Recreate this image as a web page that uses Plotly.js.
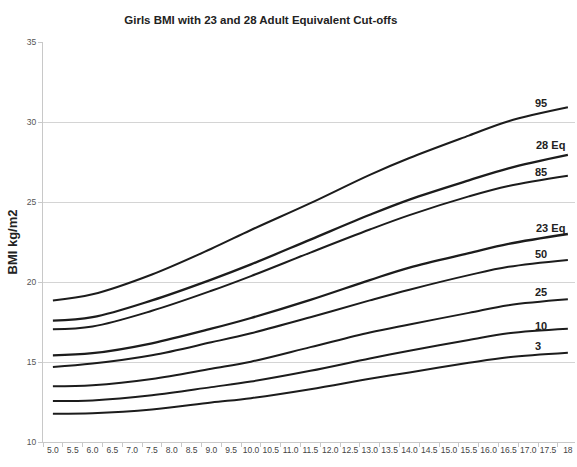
<!DOCTYPE html>
<html>
<head>
<meta charset="utf-8">
<script src="https://cdn.plot.ly/plotly-3.0.1.min.js"></script>
<style>html,body{margin:0;padding:0;background:#fff}#chart{width:577px;height:467px}</style>
</head>
<body>
<div id="chart"></div>
<script>
// Ages (years) at which the curves were read
const ages = [5, 6, 7.5, 9, 10, 11.5, 13, 14, 15.5, 16.5, 18];

// Centile curves (BMI kg/m2)
const p95   = [18.85, 19.23, 20.47, 22.08, 23.25, 24.93, 26.70, 27.75, 29.15, 30.05, 30.92];
const eq28  = [17.58, 17.80, 18.85, 20.15, 21.10, 22.65, 24.20, 25.15, 26.35, 27.10, 27.94];
const p85   = [17.04, 17.22, 18.20, 19.45, 20.37, 21.84, 23.28, 24.18, 25.35, 26.00, 26.64];
const eq23  = [15.42, 15.55, 16.17, 17.08, 17.75, 18.88, 20.12, 20.90, 21.80, 22.38, 23.00];
const p50   = [14.69, 14.90, 15.42, 16.23, 16.80, 17.80, 18.85, 19.52, 20.43, 20.95, 21.38];
const p25   = [13.48, 13.55, 13.94, 14.58, 15.02, 15.93, 16.85, 17.35, 18.07, 18.55, 18.92];
const p10   = [12.56, 12.60, 12.92, 13.43, 13.78, 14.45, 15.22, 15.70, 16.38, 16.80, 17.08];
const p3    = [11.77, 11.80, 12.03, 12.47, 12.74, 13.30, 13.95, 14.35, 14.95, 15.30, 15.58];

const seriesNames = ['95', '28 Eq', '85', '23 Eq', '50', '25', '10', '3'];
const seriesData  = [p95, eq28, p85, eq23, p50, p25, p10, p3];

// Category tick labels
const tickValues = [5,5.5,6,6.5,7,7.5,8,8.5,9,9.5,10,10.5,11,11.5,12,12.5,13,13.5,14,14.5,15,15.5,16,16.5,17,17.5,18];
const tickLabels = ['5.0','5.5','6.0','6.5','7.0','7.5','8.0','8.5','9.0','9.5','10.0','10.5','11.0','11.5','12.0','12.5','13.0','13.5','14.0','14.5','15.0','15.5','16.0','16.5','17.0','17.5','18'];

// Label positions [age, bmi]
const labelPos = [[17.32, 31.2], [17.55, 28.55], [17.32, 26.85], [17.55, 23.38], [17.32, 21.77], [17.32, 19.35], [17.32, 17.23], [17.25, 16.0]];

const traces = seriesData.map((vals, i) => ({
  x: ages, y: vals, type: 'scatter', mode: 'lines', name: seriesNames[i],
  line: {color: '#1c1c1c', width: (seriesNames[i].indexOf('Eq') >= 0) ? 2.3 : 2, shape: 'spline', smoothing: 1},
  hoverinfo: 'skip'
}));

const annotations = seriesNames.map((n, i) => ({
  x: labelPos[i][0], y: labelPos[i][1], xref: 'x', yref: 'y', text: '<b>' + n + '</b>',
  showarrow: false, font: {family: 'Liberation Sans, Arial, sans-serif', size: 11, color: '#222'}
}));

const layout = {
  width: 577, height: 467,
  margin: {l: 43, r: 2, t: 42, b: 25},
  paper_bgcolor: '#fff', plot_bgcolor: '#fff',
  showlegend: false,
  title: {text: '<b>Girls BMI with 23 and 28 Adult Equivalent Cut-offs</b>', x: 0.452, xanchor: 'center', y: 0.957, yanchor: 'middle',
          font: {family: 'Liberation Sans, Arial, sans-serif', size: 11.5, color: '#222'}},
  xaxis: {
    range: [4.75, 18.18], tickmode: 'array', tickvals: tickValues, ticktext: tickLabels,
    showgrid: false, zeroline: false, showline: true, linecolor: '#c8c8c8', linewidth: 1,
    ticks: '', tickangle: 0,
    minor: {tick0: 4.75, dtick: 0.5, ticks: 'outside', ticklen: 4, tickcolor: '#c8c8c8', showgrid: false},
    tickfont: {family: 'Liberation Sans Narrow, Arial Narrow, sans-serif', size: 8.5, color: '#444'}
  },
  yaxis: {
    range: [10, 35], tickvals: [10, 15, 20, 25, 30, 35], ticktext: ['10','15','20','25','30','35'],
    showgrid: true, gridcolor: '#d4d4d4', gridwidth: 1, zeroline: false,
    showline: true, linecolor: '#c8c8c8', linewidth: 1, ticks: 'outside', ticklen: 4, tickcolor: '#c8c8c8',
    tickfont: {family: 'Liberation Sans, Arial, sans-serif', size: 8.5, color: '#555'},
    title: {text: '<b>BMI kg/m2</b>', standoff: 6, font: {family: 'Liberation Sans, Arial, sans-serif', size: 13, color: '#222'}}
  },
  annotations: annotations
};

Plotly.newPlot('chart', traces, layout, {displayModeBar: false, staticPlot: true});
</script>
</body>
</html>
